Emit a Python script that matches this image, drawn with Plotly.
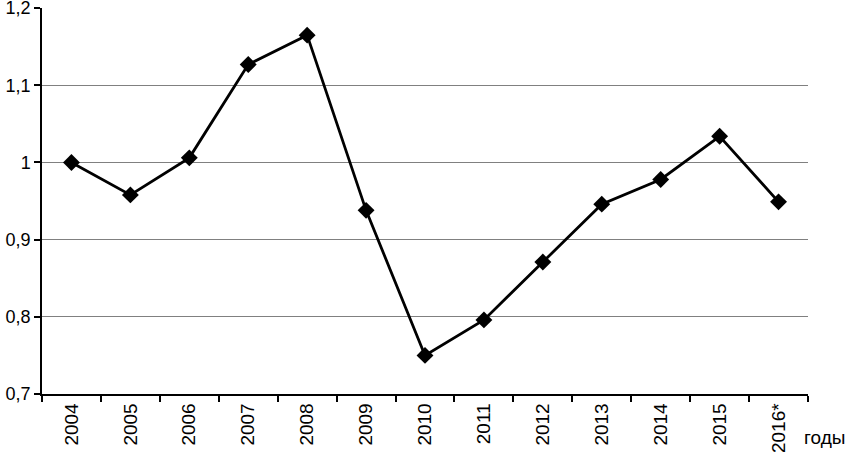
import plotly.graph_objects as go

years = ["2004", "2005", "2006", "2007", "2008", "2009", "2010",
         "2011", "2012", "2013", "2014", "2015", "2016*"]
values = [1.000, 0.958, 1.006, 1.127, 1.165, 0.938, 0.750,
          0.796, 0.871, 0.946, 0.978, 1.034, 0.949]
y_ticks = [0.7, 0.8, 0.9, 1.0, 1.1, 1.2]
y_labels = ["0,7", "0,8", "0,9", "1", "1,1", "1,2"]

FONT = "'Liberation Sans', Arial, sans-serif"

fig = go.Figure()
fig.add_trace(go.Scatter(
    x=years, y=values, mode="lines+markers",
    line=dict(color="black", width=2.8),
    marker=dict(symbol="diamond", size=13, color="black"),
    showlegend=False, cliponaxis=False,
))

fig.update_layout(
    width=845, height=455,
    margin=dict(l=42, r=37, t=8, b=61),
    plot_bgcolor="white", paper_bgcolor="white",
    font=dict(family=FONT, size=19, color="black"),
    xaxis=dict(
        type="category", range=[-0.5, len(years) - 0.5],
        tickangle=-90, ticks="outside", ticklen=6,
        tickson="boundaries", tickcolor="black", tickwidth=1.5,
        showline=True, linecolor="black", linewidth=1.5,
        showgrid=False, tickfont=dict(family=FONT, size=19),
        automargin=False, ticklabeloverflow="allow",
    ),
    yaxis=dict(
        range=[0.7, 1.2002], tickvals=y_ticks, ticktext=y_labels,
        ticks="outside", ticklen=6, tickcolor="black", tickwidth=1.5,
        showline=True, linecolor="black", linewidth=1.5,
        showgrid=True, gridcolor="#808080", gridwidth=1,
        zeroline=False, tickfont=dict(family=FONT, size=18),
        automargin=False, ticklabeloverflow="allow",
    ),
    annotations=[dict(
        text="годы", xref="paper", yref="paper", x=1.0, y=0,
        xshift=-6, yshift=-43, xanchor="left", yanchor="middle",
        showarrow=False, font=dict(family=FONT, size=19),
    )],
)

fig.write_html(
    "out.html",
    config={"displayModeBar": False},
    post_script="document.body.style.margin='0';",
)
